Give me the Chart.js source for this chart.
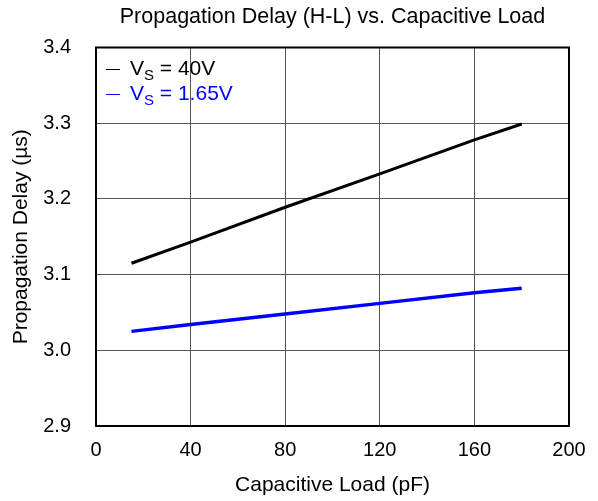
<!DOCTYPE html>
<html>
<head>
<meta charset="utf-8">
<script src="https://cdn.jsdelivr.net/npm/chart.js@4.4.4/dist/chart.umd.min.js"></script>
<style>
  html, body { margin: 0; padding: 0; background: #fff; }
  #wrap { width: 598px; height: 501px; }
</style>
</head>
<body>
<div id="wrap"><canvas id="chart"></canvas></div>
<script>
// values
const loads = [15, 40, 80, 120, 160, 180];          // pF
const delayVs40 = [3.115, 3.143, 3.189, 3.233, 3.278, 3.299];   // µs
const delayVs165 = [3.025, 3.034, 3.048, 3.062, 3.076, 3.082];  // µs
const xTicks = [0, 40, 80, 120, 160, 200];
const yTicks = [2.9, 3.0, 3.1, 3.2, 3.3, 3.4];

const FONT = '"Liberation Sans", Arial, sans-serif';
const title = 'Propagation Delay (H-L) vs. Capacitive Load';
const legendItems = [
  { main: 'V', sub: 'S', rest: ' = 40V', color: '#000000' },
  { main: 'V', sub: 'S', rest: ' = 1.65V', color: '#0000ff' },
];

const toPoints = ys => loads.map((x, i) => ({ x, y: ys[i] }));

// title, frame and legend drawn by hand
const decor = {
  id: 'decor',
  afterDraw(chart) {
    const { ctx, chartArea: a } = chart;
    ctx.save();
    ctx.strokeStyle = '#000';
    ctx.lineWidth = 2;
    ctx.strokeRect(a.left, a.top, a.right - a.left, a.bottom - a.top);

    ctx.fillStyle = '#000';
    ctx.font = '21.5px ' + FONT;
    ctx.textAlign = 'center';
    ctx.textBaseline = 'middle';
    ctx.fillText(title, (a.left + a.right) / 2, 17);

    ctx.textAlign = 'left';
    ctx.textBaseline = 'alphabetic';
    legendItems.forEach((it, i) => {
      const base = 75 + i * 25;
      ctx.fillStyle = it.color;
      ctx.font = '14px ' + FONT;
      ctx.fillText('\u2014', 106, base - 2.5);
      let x = 130;
      ctx.font = '21px ' + FONT;
      ctx.fillText(it.main, x, base);
      x += ctx.measureText(it.main).width;
      ctx.font = '15px ' + FONT;
      ctx.fillText(it.sub, x, base + 5);
      x += ctx.measureText(it.sub).width;
      ctx.font = '21px ' + FONT;
      ctx.fillText(it.rest, x, base);
    });
    ctx.restore();
  }
};

new Chart(document.getElementById('chart'), {
  type: 'line',
  data: {
    datasets: [
      { label: 'VS = 40V', data: toPoints(delayVs40), borderColor: '#000000', borderWidth: 3 },
      { label: 'VS = 1.65V', data: toPoints(delayVs165), borderColor: '#0000ff', borderWidth: 3.5 },
    ]
  },
  options: {
    responsive: true,
    maintainAspectRatio: false,
    animation: false,
    devicePixelRatio: 1,
    layout: { padding: { top: 47.5, right: 29, left: 0, bottom: 0 } },
    elements: { point: { radius: 0 }, line: { tension: 0 } },
    plugins: { legend: { display: false }, title: { display: false }, tooltip: { enabled: false } },
    scales: {
      x: {
        type: 'linear',
        min: 0, max: 200,
        afterBuildTicks: s => { s.ticks = xTicks.map(v => ({ value: v })); },
        afterFit: s => { s.height = 75; },
        grid: { color: '#555', lineWidth: 1, drawTicks: false },
        border: { display: false },
        ticks: { color: '#000', padding: 12, font: { family: FONT, size: 20 } },
        title: { display: true, text: 'Capacitive Load (pF)', color: '#000',
                 padding: { top: 4, bottom: 3.4 }, font: { family: FONT, size: 21 } }
      },
      y: {
        min: 2.9, max: 3.4,
        afterBuildTicks: s => { s.ticks = yTicks.map(v => ({ value: v })); },
        afterFit: s => { s.width = 96; },
        grid: { color: '#555', lineWidth: 1, drawTicks: false },
        border: { display: false },
        ticks: { color: '#000', padding: 25, font: { family: FONT, size: 20 },
                 callback: v => v.toFixed(1) },
        title: { display: true, text: 'Propagation Delay (µs)', color: '#000',
                 padding: { top: 8.2, bottom: 4 }, font: { family: FONT, size: 21 } }
      }
    }
  },
  plugins: [decor]
});
</script>
</body>
</html>
